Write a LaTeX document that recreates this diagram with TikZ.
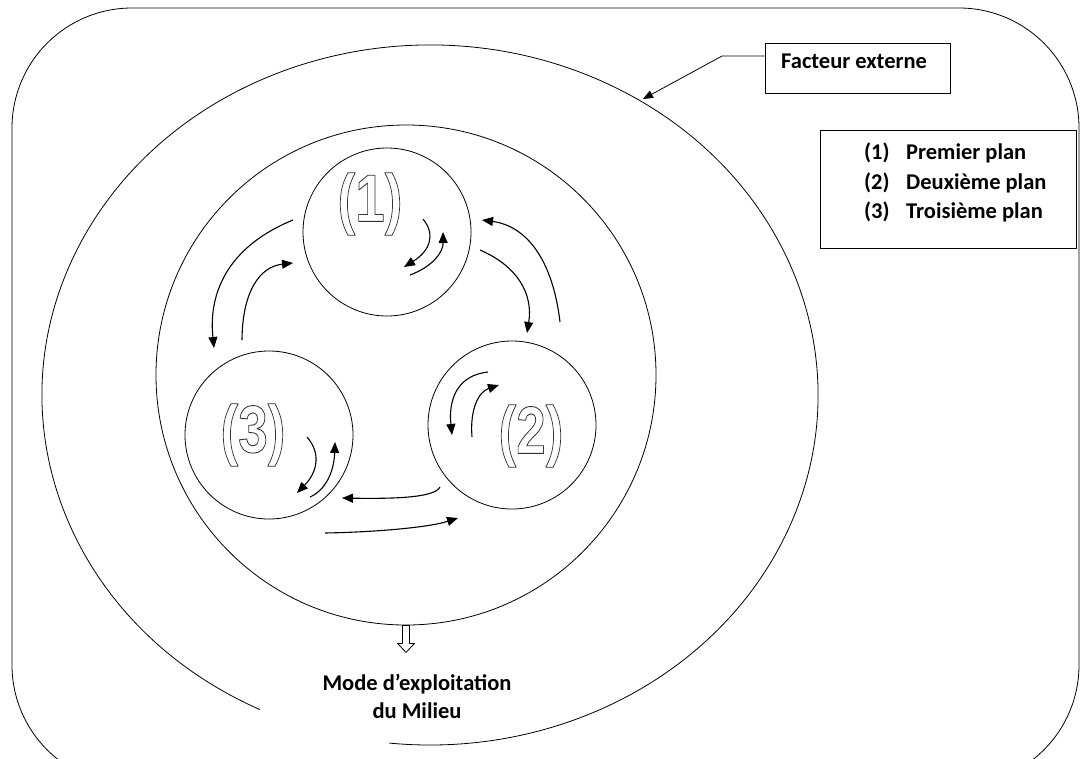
\documentclass[tikz,border=0pt]{standalone}
\usepackage{fontspec}
\setmainfont{Carlito}
\newfontfamily\numfont{Liberation Sans}
\usetikzlibrary{arrows.meta}
% stroke-only (hollow) glyphs through the PDF text render mode
\newcommand\hollowglyphs[1]{\special{pdf:literal direct 1 Tr 0.9 w 0.2 G}#1\special{pdf:literal direct 0 Tr 0 G}}
\begin{document}
\begin{tikzpicture}[x=1pt,y=-1pt,line join=round,
  thinline/.style={line width=0.8pt},
  flow/.style={line width=1.1pt,-{Triangle[length=11pt,width=9pt]}},
  plan/.style={circle,draw,line width=0.8pt,minimum size=168pt,inner sep=0pt},
  lbl/.style={font=\bfseries\fontsize{22.5}{27}\selectfont,inner sep=0pt},
  numlbl/.style={font=\numfont\bfseries\fontsize{67}{67}\selectfont,inner sep=0pt}]
\useasboundingbox (0,0) rectangle (1083,758);
\fill[white] (0,0) rectangle (1083,758);
\clip (0,0) rectangle (1083,758);

% outer frame
\draw[thinline,rounded corners=120pt] (12,8) rectangle (1079,785);

% middle ellipse, open at the lower left for the caption
\coordinate (mc) at (430,395);
\draw[thinline] ([shift={(116:388 and 350)}]mc) arc[start angle=116,end angle=456,x radius=388,y radius=350];

% inner circle
\node[circle,draw,thinline,minimum size=500pt,inner sep=0pt] (inner) at (406,375) {};

% the three plans
\node[plan] (c1) at (387,232) {};
\node[plan] (c2) at (512,425) {};
\node[plan] (c3) at (269,435) {};
\node[numlbl] (n1) at (370,204) {\scalebox{0.79}[1]{\hollowglyphs{(1)}}};
\node[numlbl] (n2) at (531,436) {\scalebox{0.79}[1]{\hollowglyphs{(2)}}};
\node[numlbl] (n3) at (253,435) {\scalebox{0.79}[1]{\hollowglyphs{(3)}}};

% rotation arrows inside each plan
\draw[flow] (423,219) .. controls (436,235) and (429.7,251) .. (404,267);
\draw[flow] (410,275) .. controls (432.3,266.7) and (443.3,252.3) .. (443,232);
\draw[flow] (488,372) .. controls (460,375) and (448,396) .. (452,435);
\draw[flow] (472,437) .. controls (469.7,409) and (478.7,391.7) .. (499,385);
\draw[flow] (307,437) .. controls (321,453) and (317.7,471.7) .. (297,493);
\draw[flow] (310,497) .. controls (325.7,490) and (334,471.7) .. (335,442);

% exchanges between the plans
\draw[flow] (293,220) .. controls (234,244) and (207.7,286.7) .. (214,348);
\draw[flow] (242,340) .. controls (242.3,292.3) and (259.3,266.7) .. (293,263);
\draw[flow] (480,250) .. controls (517.7,266.3) and (533.3,294) .. (527,333);
\draw[flow] (560,322) .. controls (552.7,260) and (526.7,226) .. (482,220);
\draw[flow] (440,487) .. controls (435,497) and (400,499) .. (342,498);
\draw[flow] (325,533) .. controls (380,532) and (430,527) .. (458,518);

% external factor
\node[draw,thinline,minimum width=185pt,minimum height=50pt,inner sep=0pt] (fe) at (857.5,68) {};
\node[lbl,anchor=base west] (fetext) at (781,68) {Facteur externe};
\coordinate (febend) at (722,56);
\coordinate (fetip) at (643,99);
\draw[thinline,-{Triangle[length=10pt,width=8pt]}] (fe.west |- febend) -- (febend) -- (fetip);

% legend
\node[draw,thinline,minimum width=256pt,minimum height=118pt,inner sep=0pt] (legend) at (948,189) {};
\node[lbl,anchor=base west] (l1n) at (864,159) {(1)};
\node[lbl,anchor=base west] (l1t) at (906,159) {Premier plan};
\node[lbl,anchor=base west] (l2n) at (864,189) {(2)};
\node[lbl,anchor=base west] (l2t) at (906,189) {Deuxième plan};
\node[lbl,anchor=base west] (l3n) at (864,218) {(3)};
\node[lbl,anchor=base west] (l3t) at (906,218) {Troisième plan};

% output of the system
\draw[thinline,fill=white] (inner.south) ++(-3.5,0) -- ++(0,18) -- ++(-5,0) -- ++(8.5,9) -- ++(8.5,-9) -- ++(-5,0) -- ++(0,-18) -- cycle;
\node[lbl,anchor=base] (mode1) at (417,690) {Mode d’exploitation};
\node[lbl,anchor=base] (mode2) at (417,718) {du Milieu};
\end{tikzpicture}
\end{document}
